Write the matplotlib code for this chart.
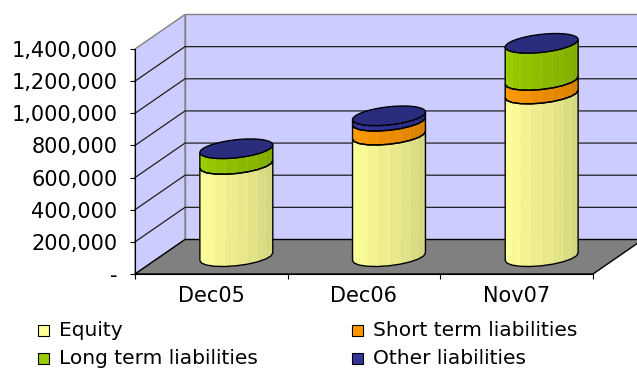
import numpy as np
import matplotlib
matplotlib.use('Agg')
import matplotlib.pyplot as plt
from matplotlib.patches import Polygon, Rectangle
from matplotlib.ticker import FixedLocator, FuncFormatter, NullFormatter
from matplotlib.colors import to_rgb

# data
categories = ['Dec05', 'Dec06', 'Nov07']
equity = [574000, 756000, 1012000]
shortTerm = [0, 87000, 85000]
longTerm = [98000, 0, 231000]
other = [0, 34000, 0]
seriesNames = ['Equity', 'Short term liabilities', 'Long term liabilities', 'Other liabilities']
seriesColors = ['#FFFF99', '#FF9900', '#99CC00', '#333399']
capColor = '#2A2C7E'
yTicks = [0, 200000, 400000, 600000, 800000, 1000000, 1200000, 1400000]

plt.rcParams['font.family'] = ['DejaVu Sans']

W, H = 637, 370
# front plane of the box, in pixels from top-left
pxLeft, pxRight, pxBottom, pxTop = 135, 593, 274, 49
depthX, depthY = 50, 34.5          # pixel shift of the back wall

fig = plt.figure(figsize=(W / 100, H / 100), dpi=100)
ax = fig.add_axes([pxLeft / W, 1 - pxBottom / H, (pxRight - pxLeft) / W, (pxBottom - pxTop) / H])
ymax = yTicks[-1]
ax.set_xlim(-0.5, len(categories) - 0.5)
ax.set_ylim(0, ymax)
ax.patch.set_alpha(0)

# depth offset in data units
DX = depthX / ((pxRight - pxLeft) / len(categories))
DY = depthY / ((pxBottom - pxTop) / ymax)
x0, x1 = -0.5, len(categories) - 0.5

def proj(x, v, z):
    return x + z * DX, v + z * DY

# walls and floor
wall = '#CCCCFF'
ax.add_patch(Polygon([proj(x0, 0, 1), proj(x1 + 0.2, 0, 1), proj(x1 + 0.2, ymax, 1), proj(x0, ymax, 1)],
                     closed=True, fc=wall, ec='#808080', lw=1, clip_on=False, zorder=0))
ax.add_patch(Polygon([proj(x0, 0, 0), proj(x0, 0, 1), proj(x0, ymax, 1), proj(x0, ymax, 0)],
                     closed=True, fc=wall, ec='#808080', lw=1, clip_on=False, zorder=0))
ax.add_patch(Polygon([proj(x0, 0, 0), proj(x1, 0, 0), proj(x1, 0, 1), proj(x0, 0, 1)],
                     closed=True, fc='#808080', ec='black', lw=1, clip_on=False, zorder=0.5))
for v in yTicks[1:-1]:
    a, b, c = proj(x0, v, 0), proj(x0, v, 1), proj(x1 + 0.2, v, 1)
    ax.plot([a[0], b[0], c[0]], [a[1], b[1], c[1]], color='#202020', lw=0.9,
            clip_on=False, zorder=1)

# cylinders
rCat = 0.22      # half width along x (category units)
rZ = 0.284       # half depth (fraction of box depth)
zc = 0.5
rPx = rCat * (pxRight - pxLeft) / len(categories)
thS = np.arctan2(rZ * depthX, rPx)
arc = np.linspace(thS - np.pi, thS, 11)
full = np.linspace(0, 2 * np.pi, 60)

def ring(xc, v, th):
    xs, ys = proj(xc + rCat * np.cos(th), v, zc + rZ * np.sin(th))
    return np.column_stack([xs, ys])

stack = [equity, shortTerm, longTerm, other]
for i in range(len(categories)):
    base = 0
    for s, vals in enumerate(stack):
        top = base + vals[i]
        if vals[i] > 0:
            col = np.array(to_rgb(seriesColors[s]))
            lo, hi = ring(i, base, arc), ring(i, top, arc)
            n = len(arc) - 1
            for k in range(n):
                f = k / (n - 1)
                shade = np.clip(col * (1.02 - 0.2 * f), 0, 1)
                ax.add_patch(Polygon([lo[k], lo[k + 1], hi[k + 1], hi[k]], closed=True,
                                     fc=shade, ec=np.clip(shade * 1.06, 0, 1), lw=0.4,
                                     clip_on=False, zorder=3))
            ax.add_patch(Polygon(np.vstack([lo, hi[::-1]]), closed=True, fc='none',
                                 ec='black', lw=1, clip_on=False, zorder=4))
        base = top
    ax.add_patch(Polygon(ring(i, base, full), closed=True, fc=capColor, ec='black',
                         lw=1, clip_on=False, zorder=5))

# axes
for sp in ['top', 'right']:
    ax.spines[sp].set_visible(False)
ax.spines['left'].set_color('black')
ax.spines['bottom'].set_color('black')
ax.yaxis.set_major_locator(FixedLocator(yTicks))
ax.yaxis.set_major_formatter(FuncFormatter(lambda v, p: '-' if v == 0 else f'{v:,.0f}'))
ax.tick_params(axis='y', direction='out', length=3.6, width=0.8, pad=9, labelsize=15)
ax.xaxis.set_major_locator(FixedLocator(np.arange(len(categories) + 1) - 0.5))
ax.xaxis.set_major_formatter(NullFormatter())
ax.xaxis.set_minor_locator(FixedLocator(np.arange(len(categories))))
ax.xaxis.set_minor_formatter(FuncFormatter(lambda v, p: categories[int(round(v))]))
ax.tick_params(axis='x', which='major', direction='out', length=3.6, width=0.8)
ax.tick_params(axis='x', which='minor', length=0, pad=9, labelsize=15)

# legend
legX = [38, 352]
legY = [330, 358.5]
for s, name in enumerate(seriesNames):
    cx, cy = legX[s % 2], legY[s // 2]
    fig.add_artist(Rectangle((cx / W, 1 - (cy + 5.5) / H), 11 / W, 11 / H, transform=fig.transFigure,
                             fc=seriesColors[s], ec='black', lw=0.8))
    fig.text((cx + 21) / W, 1 - cy / H, name, fontsize=14.5, va='center', ha='left')

fig.savefig('out.png', dpi=100)
